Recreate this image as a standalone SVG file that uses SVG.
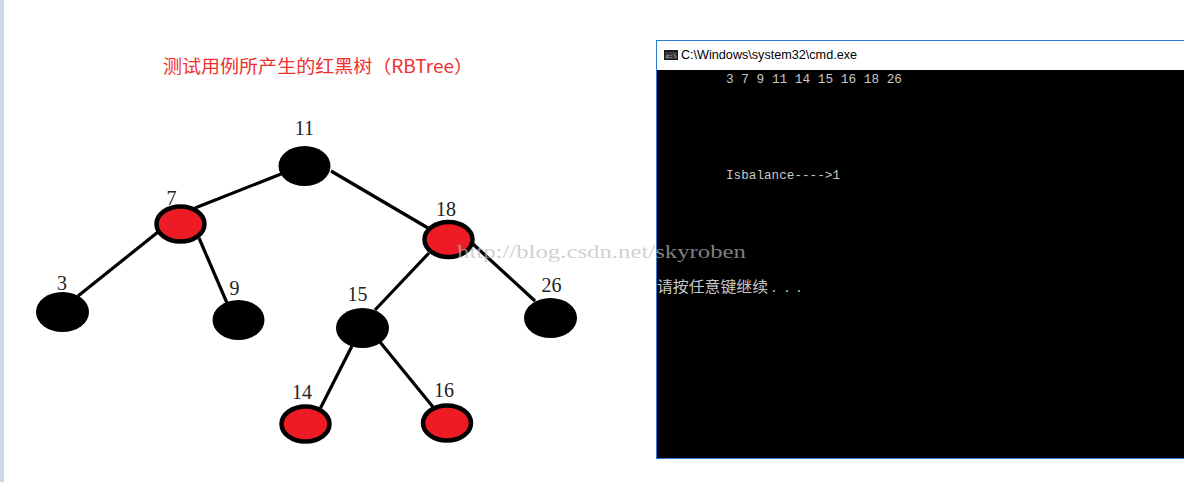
<svg xmlns="http://www.w3.org/2000/svg" width="1184" height="482" viewBox="0 0 1184 482">
<style>
.edge{stroke:#000;stroke-width:3.2;stroke-linecap:butt}
.blk{fill:#000}
.red{fill:#ed1c24;stroke:#000;stroke-width:4.5}
.lbl{font-family:"Liberation Serif",serif;font-size:20px;fill:#222;text-anchor:middle}
.con{font-family:"Liberation Mono",monospace;font-size:13px;fill:#c8c8c8}
</style>
<rect x="0" y="0" width="1184" height="482" fill="#fff"/>
<rect x="0" y="0" width="4" height="482" fill="#cdd7e8"/>
<text x="163" y="73" textLength="310" lengthAdjust="spacingAndGlyphs" font-family="'Noto Sans CJK SC',sans-serif" font-size="18" fill="#f03030">测试用例所产生的红黑树（RBTree）</text>
<g id="connectors">
<line class="edge" x1="281" y1="174" x2="195" y2="208"/>
<line class="edge" x1="331" y1="171" x2="428" y2="228"/>
<line class="edge" x1="158" y1="232" x2="78" y2="296"/>
<line class="edge" x1="199" y1="238" x2="227" y2="303"/>
<line class="edge" x1="429" y1="253" x2="375" y2="310"/>
<line class="edge" x1="473" y1="244" x2="535" y2="301"/>
<line class="edge" x1="352" y1="346" x2="320" y2="409"/>
<line class="edge" x1="380" y1="342" x2="433" y2="407"/>
</g>
<g id="n11"><ellipse class="blk" cx="304.5" cy="166" rx="26" ry="20"/><text class="lbl" x="304.5" y="135">11</text></g>
<g id="n7"><ellipse class="red" cx="180.5" cy="224" rx="24" ry="17.5"/><text class="lbl" x="171.5" y="205">7</text></g>
<g id="n18"><ellipse class="red" cx="448.5" cy="239.5" rx="24" ry="17.5"/><text class="lbl" x="446" y="216">18</text></g>
<g id="n3"><ellipse class="blk" cx="62.5" cy="312" rx="26.5" ry="20"/><text class="lbl" x="62" y="290">3</text></g>
<g id="n9"><ellipse class="blk" cx="238.5" cy="320" rx="26" ry="20"/><text class="lbl" x="234.5" y="295">9</text></g>
<g id="n15"><ellipse class="blk" cx="362.5" cy="328" rx="26.5" ry="20"/><text class="lbl" x="357.5" y="301">15</text></g>
<g id="n26"><ellipse class="blk" cx="550.5" cy="318" rx="26.5" ry="20"/><text class="lbl" x="551.5" y="292">26</text></g>
<g id="n14"><ellipse class="red" cx="305.5" cy="424" rx="24" ry="17.5"/><text class="lbl" x="302" y="399">14</text></g>
<g id="n16"><ellipse class="red" cx="447" cy="423" rx="24" ry="17.5"/><text class="lbl" x="444" y="397">16</text></g>
<g id="cmd">
<rect x="656.5" y="40.5" width="540" height="418" fill="#fff" stroke="#2b7bd3" stroke-width="1"/>
<rect x="657" y="70" width="527" height="388" fill="#000"/>
<rect x="664" y="50" width="14" height="10" fill="#1a1a1a"/>
<rect x="665" y="52" width="12" height="7" fill="#3a3a3a"/>
<text x="666" y="58" font-family="'Liberation Mono',monospace" font-size="6" fill="#ddd">c:\</text>
<text x="681" y="59" textLength="176" lengthAdjust="spacingAndGlyphs" font-family="'Liberation Sans',sans-serif" font-size="12.5" fill="#000">C:\Windows\system32\cmd.exe</text>
<text class="con" x="726" y="83" textLength="176" lengthAdjust="spacingAndGlyphs">3 7 9 11 14 15 16 18 26</text>
<text class="con" x="726" y="179" textLength="114" lengthAdjust="spacingAndGlyphs">Isbalance----&gt;1</text>
<text x="657" y="292" textLength="111" lengthAdjust="spacingAndGlyphs" font-family="'Noto Sans CJK SC',sans-serif" font-size="15" fill="#c8c8c8">请按任意键继续</text>
<text x="770" y="292" font-family="'Liberation Mono',monospace" font-size="13" fill="#c8c8c8">.</text>
<text x="783" y="292" font-family="'Liberation Mono',monospace" font-size="13" fill="#c8c8c8">.</text>
<text x="795" y="292" font-family="'Liberation Mono',monospace" font-size="13" fill="#c8c8c8">.</text>
</g>
<text x="457" y="258" textLength="289" lengthAdjust="spacingAndGlyphs" font-family="'Liberation Serif',serif" font-size="19" fill="#bbbbbb" fill-opacity="0.69">http://blog.csdn.net/skyroben</text>
</svg>
